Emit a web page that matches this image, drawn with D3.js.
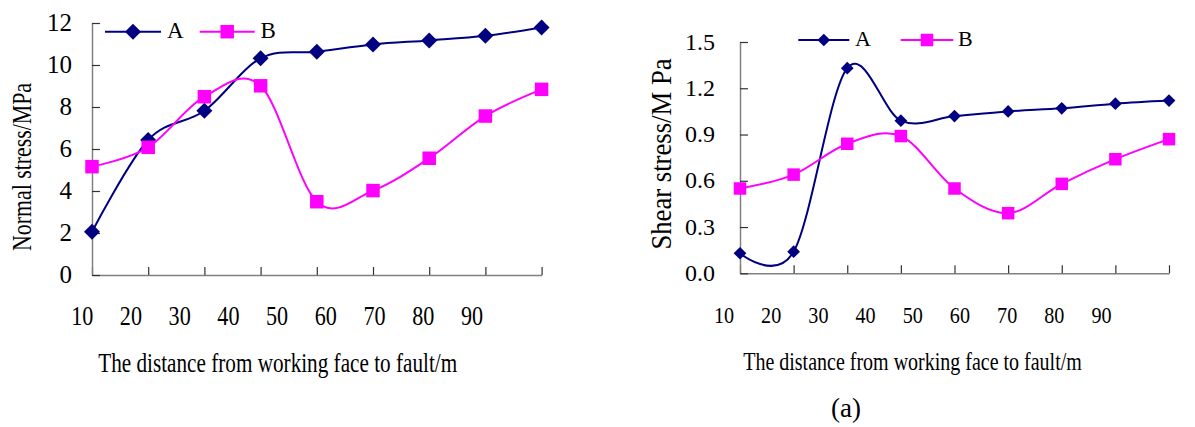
<!DOCTYPE html>
<html><head><meta charset="utf-8">
<script src="https://cdn.jsdelivr.net/npm/d3@7"></script>
<style>
body{margin:0;background:#fff}
svg{display:block}
text{font-family:"Liberation Serif","Times New Roman",serif;fill:#000}
</style>
</head><body>
<svg id="c" width="1195" height="427"></svg>
<script>
// ---- data ----
const distance = [10, 20, 30, 40, 50, 60, 70, 80, 90];
const normalA = [2.06, 6.43, 7.82, 10.32, 10.63, 10.98, 11.17, 11.39, 11.79];
const normalB = [5.16, 6.08, 8.49, 9.01, 3.49, 4.02, 5.56, 7.57, 8.84];
const shearA  = [0.13, 0.14, 1.33, 0.99, 1.02, 1.05, 1.07, 1.10, 1.12];
const shearB  = [0.55, 0.64, 0.84, 0.89, 0.55, 0.39, 0.58, 0.74, 0.87];
const normalTicks = [0, 2, 4, 6, 8, 10, 12];
const shearTicks  = [0, 0.3, 0.6, 0.9, 1.2, 1.5];
const seriesNames = ["A", "B"];
const xTitle = "The distance from working face to fault/m";
const normalTitle = "Normal stress/MPa";
const shearTitle = "Shear stress/M Pa";
const caption = "(a)";

const colors = {A: "#000080", B: "#FF00FF"};
const svg = d3.select("#c");

function panel(cfg) {
  const x = d3.scaleLinear().domain([10, 90]).range(cfg.xRange);
  const y = d3.scaleLinear().domain([0, cfg.yMax]).range(cfg.yRange);
  const xl = d3.scaleLinear().domain([10, 90]).range(cfg.labelRange);
  const g = svg.append("g");

  // x axis (line + inward ticks)
  const gx = g.append("g").attr("transform", `translate(0,${y(0)})`)
    .call(d3.axisTop(x).tickValues(distance).tickSizeInner(8).tickSizeOuter(0).tickFormat(""));
  gx.select(".domain").attr("stroke", "#808080").attr("stroke-width", 1.5);
  gx.selectAll(".tick line").attr("stroke", "#333").attr("stroke-width", 1.2);

  // y axis (line + inward ticks)
  const gy = g.append("g").attr("transform", `translate(${x(10)},0)`)
    .call(d3.axisRight(y).tickValues(cfg.ticks).tickSizeInner(8).tickSizeOuter(0).tickFormat(""));
  gy.select(".domain").attr("stroke", "#808080").attr("stroke-width", 1.5);
  gy.selectAll(".tick line").attr("stroke", "#333").attr("stroke-width", 1.2);

  // y tick labels
  const gyl = g.append("g").attr("transform", `translate(${x(10)},0)`)
    .call(d3.axisLeft(y).tickValues(cfg.ticks).tickSize(0).tickPadding(cfg.yPad).tickFormat(cfg.fmt));
  gyl.select(".domain").remove();
  gyl.attr("font-family", null);
  gyl.selectAll("text").attr("font-size", cfg.yFont).attr("dy", "0.3em").attr("fill", "#000");

  // x tick labels (placed as in the picture)
  const gxl = g.append("g").attr("transform", `translate(0,${cfg.xLabelBase})`)
    .call(d3.axisBottom(xl).tickValues(distance).tickSize(0).tickFormat(d3.format("d")));
  gxl.select(".domain").remove();
  gxl.attr("font-family", null);
  gxl.selectAll("text").attr("y", 0).attr("dy", 0).attr("font-size", cfg.xFont)
    .attr("transform", `scale(${cfg.xScaleX},1)`).attr("fill", "#000");

  // x title
  g.append("text").attr("text-anchor", "middle").attr("font-size", cfg.titleFont)
    .attr("transform", `translate(${cfg.titleX},${cfg.titleBase}) scale(${cfg.titleScaleX},1)`)
    .text(xTitle);
  // y title
  g.append("text").attr("text-anchor", "middle").attr("font-size", cfg.yTitleFont)
    .attr("transform", `translate(${cfg.yTitleX},${cfg.yTitleY}) rotate(-90) scale(${cfg.yTitleScaleX},1)`)
    .text(cfg.yTitle);

  const line = d3.line().x(d => x(d[0])).y(d => y(d[1])).curve(d3.curveCardinal.tension(0));
  const diamond = d3.symbol(d3.symbolSquare).size(cfg.diamondSide * cfg.diamondSide)();
  const square = d3.symbol(d3.symbolSquare).size(cfg.squareSide * cfg.squareSide)();

  cfg.series.forEach((vals, i) => {
    const name = seriesNames[i];
    const pts = distance.map((d, j) => [d, vals[j]]);
    g.append("path").attr("d", line(pts)).attr("fill", "none")
      .attr("stroke", colors[name]).attr("stroke-width", 2);
    g.selectAll(null).data(pts).enter().append("path")
      .attr("d", i === 0 ? diamond : square)
      .attr("transform", d => `translate(${x(d[0])},${y(d[1])})` + (i === 0 ? " rotate(45)" : ""))
      .attr("fill", colors[name]);
  });

  // legend
  cfg.legend.forEach((L, i) => {
    const name = seriesNames[i];
    g.append("line").attr("x1", L.x1).attr("x2", L.x2).attr("y1", cfg.legendY).attr("y2", cfg.legendY)
      .attr("stroke", colors[name]).attr("stroke-width", 2);
    g.append("path").attr("d", i === 0 ? diamond : square)
      .attr("transform", `translate(${(L.x1 + L.x2) / 2},${cfg.legendY})` + (i === 0 ? " rotate(45)" : ""))
      .attr("fill", colors[name]);
    g.append("text").attr("x", L.tx).attr("y", cfg.legendBase).attr("font-size", cfg.legendFont).text(name);
  });
}

panel({
  xRange: [92, 541.6], yRange: [275, 23], yMax: 12, ticks: normalTicks,
  labelRange: [81.7, 471.5], xLabelBase: 325, xFont: 27, xScaleX: 0.82,
  yPad: 20, yFont: 25, fmt: d3.format("d"),
  titleX: 277.7, titleBase: 371.5, titleFont: 27, titleScaleX: 0.785,
  yTitle: normalTitle, yTitleX: 31, yTitleY: 167, yTitleFont: 28, yTitleScaleX: 0.78,
  series: [normalA, normalB], diamondSide: 11.3, squareSide: 13.5,
  legendY: 31.7, legendBase: 38.3, legendFont: 23,
  legend: [{x1: 105, x2: 161, tx: 167}, {x1: 199.7, x2: 254.7, tx: 260.5}]
});

panel({
  xRange: [740, 1169], yRange: [273.3, 42], yMax: 1.5, ticks: shearTicks,
  labelRange: [723.5, 1101], xLabelBase: 322.7, xFont: 24, xScaleX: 0.84,
  yPad: 25, yFont: 24, fmt: d3.format(".1f"),
  titleX: 912.5, titleBase: 370, titleFont: 25, titleScaleX: 0.8,
  yTitle: shearTitle, yTitleX: 671, yTitleY: 154, yTitleFont: 29, yTitleScaleX: 0.92,
  series: [shearA, shearB], diamondSide: 9, squareSide: 12.5,
  legendY: 40, legendBase: 46, legendFont: 22,
  legend: [{x1: 798.3, x2: 849.3, tx: 855}, {x1: 900.7, x2: 953.3, tx: 958}]
});

svg.append("text").attr("x", 846).attr("y", 417).attr("text-anchor", "middle")
  .attr("font-size", 27).text(caption);
</script>
</body></html>
